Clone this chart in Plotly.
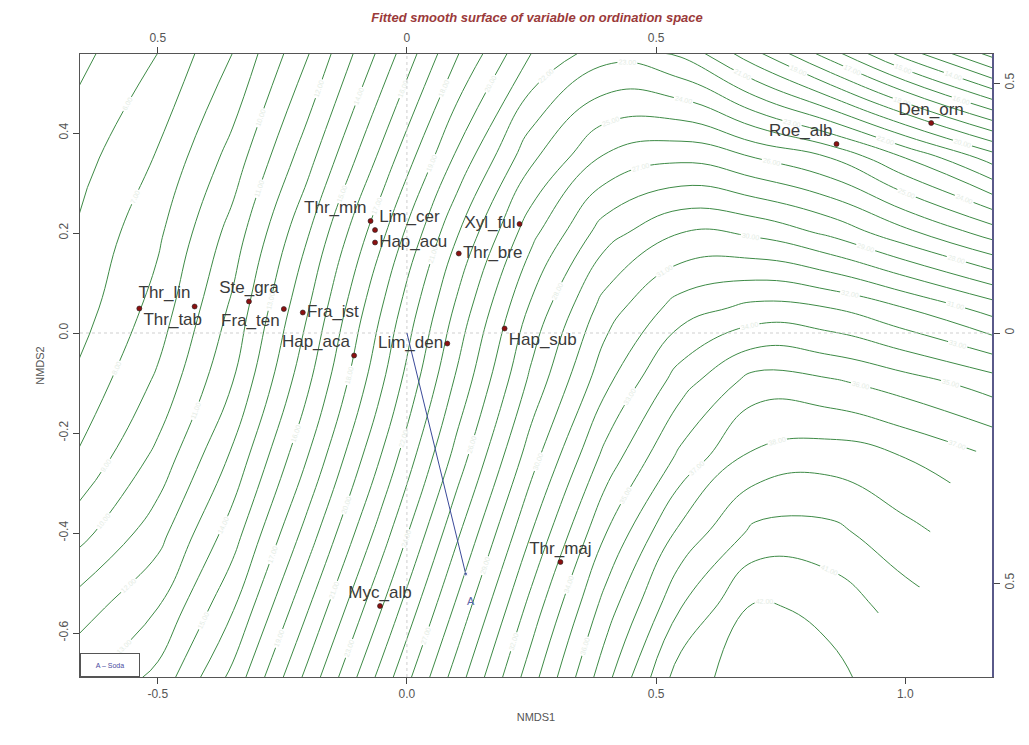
import plotly.graph_objects as go

# ---------------- data ----------------
species = ["Thr_tab", "Thr_lin", "Ste_gra", "Fra_ten", "Fra_ist", "Hap_aca", "Lim_den",
           "Thr_min", "Lim_cer", "Hap_acu", "Thr_bre", "Xyl_ful", "Hap_sub", "Roe_alb",
           "Den_orn", "Thr_maj", "Myc_alb"]
nmds1 = [-0.537, -0.426, -0.317, -0.247, -0.209, -0.106, 0.081,
         -0.073, -0.064, -0.064, 0.104, 0.226, 0.196, 0.862,
         1.052, 0.308, -0.054]
nmds2 = [0.049, 0.053, 0.063, 0.048, 0.041, -0.045, -0.021,
         0.224, 0.206, 0.181, 0.159, 0.218, 0.009, 0.378,
         0.420, -0.458, -0.546]
label_pos = ["bottom right", "top left", "top center", "bottom left", "middle right",
             "top left", "middle left", "top left", "top right", "middle right",
             "middle right", "middle left", "bottom right", "top left",
             "top center", "top center", "top center"]

# fitted vector (arrow) for variable
vec_x = [0.0, 0.118]
vec_y = [0.0, -0.482]
vec_label = "A"

# fitted surface (grid)
grid_x = [-0.66, -0.50, -0.35, -0.20, -0.05, 0.10, 0.25, 0.40, 0.55, 0.70, 0.85, 1.00, 1.18]
grid_y = [-0.69, -0.55, -0.40, -0.25, -0.10, 0.05, 0.20, 0.35, 0.56]
surface = [
    [12.8, 14.3, 17.3, 21.3, 25.4, 29.5, 33.6, 37.7, 41.6, 42.5, 42.3, 41.3, 40.5],
    [11.5, 13.0, 15.9, 19.9, 24.0, 28.2, 32.4, 36.5, 40.0, 42.2, 41.7, 40.5, 39.5],
    [9.6, 11.6, 14.5, 18.4, 22.5, 26.8, 31.0, 35.0, 38.3, 40.3, 40.3, 39.3, 38.3],
    [8.1, 10.3, 13.2, 17.0, 21.1, 25.4, 29.6, 33.4, 36.3, 38.3, 38.6, 38.0, 37.0],
    [7.2, 9.2, 12.0, 15.8, 19.9, 24.2, 28.3, 31.8, 34.6, 36.5, 36.2, 35.5, 34.5],
    [6.5, 8.4, 11.2, 14.9, 19.0, 23.2, 27.2, 30.5, 32.5, 33.3, 33.0, 32.0, 30.5],
    [6.1, 7.8, 10.4, 13.9, 17.8, 21.9, 25.7, 28.6, 30.0, 29.8, 28.8, 27.3, 25.5],
    [5.6, 7.1, 9.4, 12.6, 16.3, 20.2, 23.8, 26.2, 26.8, 26.0, 25.0, 23.0, 20.5],
    [4.7, 6.0, 8.0, 10.9, 14.3, 17.9, 21.0, 22.6, 21.8, 19.2, 16.4, 13.5, 10.5],
]
# region where the surface is not drawn (too far from data)
mask_x = [1.18, 1.05, 1.05, 0.98, 0.91, 0.90, 1.18]
mask_y = [-0.19, -0.35, -0.49, -0.55, -0.57, -0.69, -0.69]

x_ticks = [-0.5, 0.0, 0.5, 1.0]
x_ticktext = ["-0.5", "0.0", "0.5", "1.0"]
y_ticks = [-0.6, -0.4, -0.2, 0.0, 0.2, 0.4]
y_ticktext = ["-0.6", "-0.4", "-0.2", "0.0", "0.2", "0.4"]
top_ticks = [-0.5, 0.0, 0.5]
top_ticktext = ["0.5", "0", "0.5"]
right_ticks = [0.5, 0.0, -0.5]
right_ticktext = ["0.5", "0", "0.5"]

X_RANGE = [-0.656, 1.174]
Y_RANGE = [-0.688, 0.558]

FONT = "Liberation Sans, Arial, sans-serif"
GREEN = "#3d8a45"

fig = go.Figure()

fig.add_trace(go.Contour(
    x=grid_x, y=grid_y, z=surface,
    contours=dict(start=1, end=43, size=1, coloring="none",
                  showlabels=True, labelformat=".2f",
                  labelfont=dict(size=7, color="#e4ece4", family=FONT)),
    line=dict(color=GREEN, width=1, smoothing=1.3),
    showscale=False, hoverinfo="skip"))

fig.add_trace(go.Scatter(x=mask_x, y=mask_y, mode="lines", fill="toself",
                         fillcolor="white", line=dict(width=0, color="white"),
                         hoverinfo="skip", showlegend=False))

# zero lines
fig.add_trace(go.Scatter(x=X_RANGE, y=[0, 0], mode="lines",
                         line=dict(color="#cfcfcf", width=1, dash="dot"),
                         hoverinfo="skip", showlegend=False))
fig.add_trace(go.Scatter(x=[0, 0], y=Y_RANGE, mode="lines",
                         line=dict(color="#cfcfcf", width=1, dash="dot"),
                         hoverinfo="skip", showlegend=False))

# fitted vector
fig.add_trace(go.Scatter(x=vec_x, y=vec_y, mode="lines+markers",
                         line=dict(color="#3b4a9a", width=1),
                         marker=dict(size=[0, 4], color="#3b4a9a"),
                         hoverinfo="skip", showlegend=False))
fig.add_annotation(x=vec_x[1], y=vec_y[1], text=vec_label, showarrow=False,
                   yshift=-27, xshift=5, font=dict(size=11, color="#5a64a8", family=FONT))

# species points
fig.add_trace(go.Scatter(x=nmds1, y=nmds2, mode="markers+text", text=species,
                         textposition=label_pos,
                         textfont=dict(size=17, color="#3a3a3a", family=FONT),
                         marker=dict(size=5, color="#8b1010", line=dict(color="#222", width=0.6)),
                         hoverinfo="skip", showlegend=False))

# invisible trace for secondary axes
fig.add_trace(go.Scatter(x=[0], y=[0], xaxis="x2", yaxis="y2", mode="markers",
                         marker=dict(opacity=0), hoverinfo="skip", showlegend=False))

axis_common = dict(showgrid=False, zeroline=False, ticks="outside", ticklen=6,
                   tickcolor="#444", tickfont=dict(size=12, color="#555", family=FONT))

fig.update_layout(
    width=1029, height=745,
    margin=dict(l=80, r=34, t=54, b=68),
    paper_bgcolor="white", plot_bgcolor="white",
    showlegend=False,
    title=dict(text="<b><i>Fitted smooth surface of variable on ordination space</i></b>",
               x=537 / 1029, xanchor="center", y=1 - 17 / 745, yanchor="middle",
               font=dict(size=13, color="#9b3a3a", family=FONT)),
    xaxis=dict(range=X_RANGE, tickvals=x_ticks, ticktext=x_ticktext,
               showline=True, linecolor="#555", linewidth=1, mirror=False,
               title=dict(text="NMDS1", font=dict(size=11, color="#555", family=FONT), standoff=12),
               **axis_common),
    yaxis=dict(range=Y_RANGE, tickvals=y_ticks, ticktext=y_ticktext, tickangle=-90,
               showline=True, linecolor="#555", linewidth=1, mirror=False,
               title=dict(text="NMDS2", font=dict(size=11, color="#555", family=FONT), standoff=10),
               **axis_common),
    xaxis2=dict(range=X_RANGE, overlaying="x", side="top", tickvals=top_ticks,
                ticktext=top_ticktext, showline=True, linecolor="#555", linewidth=1,
                **axis_common),
    yaxis2=dict(range=Y_RANGE, overlaying="y", side="right", tickvals=right_ticks,
                ticktext=right_ticktext, tickangle=-90, showline=True,
                linecolor="#5a5a8a", linewidth=1.5, **axis_common),
)

fig.add_annotation(xref="paper", yref="paper", x=0, y=0, xanchor="left", yanchor="bottom",
                   text="A – Soda", showarrow=False, width=56, height=20,
                   bordercolor="#555", borderwidth=1, bgcolor="white",
                   font=dict(size=7, color="#4a4aa0", family=FONT))

fig.write_html("out.html")
